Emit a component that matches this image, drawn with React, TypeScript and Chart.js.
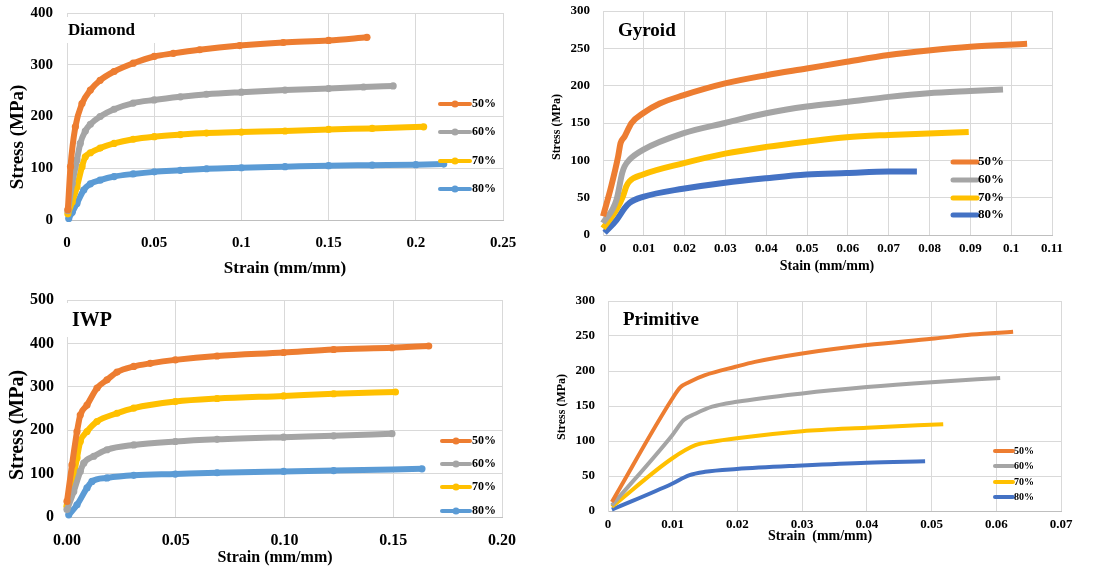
import React, { useEffect, useRef } from 'react';
import { Chart, registerables } from 'chart.js';

Chart.register(...registerables);

// ---------- legend labels ----------
const seriesLabels = ['50%', '60%', '70%', '80%'];

// ---------- tick labels ----------
const diamondXTicks = ['0', '0.05', '0.1', '0.15', '0.2', '0.25'];
const diamondYTicks = ['0', '100', '200', '300', '400'];
const gyroidXTicks = ['0', '0.01', '0.02', '0.03', '0.04', '0.05', '0.06', '0.07', '0.08', '0.09', '0.1', '0.11'];
const gyroidYTicks = ['0', '50', '100', '150', '200', '250', '300'];
const iwpXTicks = ['0.00', '0.05', '0.10', '0.15', '0.20'];
const iwpYTicks = ['0', '100', '200', '300', '400', '500'];
const primitiveXTicks = ['0', '0.01', '0.02', '0.03', '0.04', '0.05', '0.06', '0.07'];
const primitiveYTicks = ['0', '50', '100', '150', '200', '250', '300'];

// ---------- Diamond ----------
const diamond50X = [0.0005, 0.002, 0.0048, 0.0086, 0.0134, 0.019, 0.027, 0.038, 0.05, 0.061, 0.076, 0.099, 0.124, 0.15, 0.172];
const diamond50Y = [20, 103, 180, 225, 251, 270, 287, 303, 316, 322, 329, 337, 343, 347, 353];
const diamond60X = [0.0005, 0.003, 0.0057, 0.0076, 0.0105, 0.0134, 0.019, 0.027, 0.038, 0.05, 0.065, 0.08, 0.1, 0.125, 0.15, 0.17, 0.187];
const diamond60Y = [18, 70, 116, 148, 172, 185, 200, 214, 226, 232, 238, 243, 247, 251, 254, 257, 259];
const diamond70X = [0.0005, 0.003, 0.0057, 0.0086, 0.0105, 0.0134, 0.019, 0.027, 0.038, 0.05, 0.065, 0.08, 0.1, 0.125, 0.15, 0.175, 0.2045];
const diamond70Y = [12, 35, 64, 103, 122, 130, 139, 148, 156, 161, 165, 168, 170, 172, 175, 177, 180];
const diamond80X = [0.001, 0.003, 0.0057, 0.0096, 0.0134, 0.019, 0.027, 0.038, 0.05, 0.065, 0.08, 0.1, 0.125, 0.15, 0.175, 0.2, 0.216];
const diamond80Y = [3, 15, 32, 58, 70, 77, 84, 89, 93, 96, 99, 101, 103, 105, 106, 107, 108];

// ---------- Gyroid ----------
const gyroid50X = [0, 0.002, 0.0037, 0.0043, 0.0053, 0.007, 0.0098, 0.0139, 0.0196, 0.0299, 0.04, 0.0499, 0.0597, 0.07, 0.0797, 0.09, 0.1039];
const gyroid50Y = [25, 65, 105, 123, 132, 150, 163, 176, 187, 203, 214, 223, 232, 241, 247, 252, 256];
const gyroid60X = [0, 0.0033, 0.0047, 0.0053, 0.0065, 0.0098, 0.0196, 0.0299, 0.04, 0.0499, 0.0597, 0.07, 0.0797, 0.09, 0.098];
const gyroid60Y = [16, 47, 83, 92, 101, 114, 136, 150, 163, 172, 178, 185, 190, 193, 195];
const gyroid70X = [0, 0.0033, 0.0049, 0.0057, 0.0065, 0.0098, 0.0196, 0.0299, 0.04, 0.0499, 0.0597, 0.07, 0.0797, 0.0896];
const gyroid70Y = [9, 34, 52, 65, 72, 81, 96, 109, 118, 125, 131, 134, 136, 138];
const gyroid80X = [0.0004, 0.0033, 0.0053, 0.0065, 0.0098, 0.0196, 0.0299, 0.04, 0.0499, 0.0597, 0.07, 0.0769];
const gyroid80Y = [3, 20, 36, 43, 51, 62, 70, 76, 81, 83, 85, 85];

// ---------- IWP ----------
const iwp50X = [0, 0.0023, 0.0046, 0.0061, 0.0092, 0.0138, 0.0184, 0.023, 0.0307, 0.0383, 0.0498, 0.069, 0.0996, 0.1226, 0.1494, 0.1663];
const iwp50Y = [36, 120, 197, 235, 258, 297, 316, 334, 347, 354, 362, 371, 379, 386, 390, 394];
const iwp60X = [0, 0.0031, 0.0061, 0.0077, 0.0123, 0.0184, 0.0307, 0.0498, 0.069, 0.0996, 0.1226, 0.1494];
const iwp60Y = [17, 59, 105, 124, 140, 155, 166, 174, 179, 184, 187, 192];
const iwp70X = [0, 0.0023, 0.0046, 0.0061, 0.0092, 0.0138, 0.023, 0.0307, 0.0498, 0.069, 0.0996, 0.1226, 0.151];
const iwp70Y = [25, 74, 136, 174, 197, 220, 239, 251, 266, 273, 279, 284, 288];
const iwp80X = [0.0008, 0.0046, 0.0092, 0.0115, 0.0184, 0.0307, 0.0498, 0.069, 0.0996, 0.1226, 0.1632];
const iwp80Y = [5, 28, 67, 82, 90, 96, 99, 102, 105, 107, 111];

// ---------- Primitive ----------
const primitive50X = [0.0006, 0.0099, 0.0112, 0.0125, 0.015, 0.0197, 0.0227, 0.03, 0.04, 0.05, 0.0562, 0.0626];
const primitive50Y = [13, 160, 177, 184, 194, 206, 213, 225, 237, 246, 252, 256];
const primitive60X = [0.0006, 0.0099, 0.0117, 0.0135, 0.0161, 0.0199, 0.03, 0.04, 0.05, 0.0606];
const primitive60Y = [8, 108, 130, 139, 149, 156, 168, 177, 184, 190];
const primitive70X = [0.0006, 0.0099, 0.0135, 0.0161, 0.0199, 0.03, 0.04, 0.0518];
const primitive70Y = [6, 75, 94, 99, 104, 114, 119, 124];
const primitive80X = [0.0006, 0.0099, 0.0125, 0.015, 0.0199, 0.03, 0.04, 0.049];
const primitive80Y = [2, 39, 51, 56, 60, 65, 69, 71];

// ---------- styling ----------
const ORANGE = '#ED7D31';
const GRAY = '#A5A5A5';
const YELLOW = '#FFC000';
const LIGHT_BLUE = '#5B9BD5';
const DARK_BLUE = '#4472C4';
const FAMILY = "'Liberation Serif', 'Times New Roman', serif";
const GRID = '#d9d9d9';

type Series = { xs: number[]; ys: number[]; color: string };

type PanelCfg = {
  left: number; top: number; w: number; h: number;
  padTop: number; padRight: number; yAxisWidth: number; xAxisHeight: number;
  xMax: number; xStep: number; yMax: number; yStep: number;
  xTicks: string[]; yTicks: string[];
  tickFont: number; xTickPad: number; yTickPad: number;
  title: string; titleX: number; titleY: number; titleFont: number; titleBox?: number[];
  yTitle: string; yTitleX: number; yTitleY: number; yTitleFont: number;
  xTitle: string; xTitleX: number; xTitleY: number; xTitleFont: number;
  legX0: number; legX1: number; legTextX: number; legYs: number[]; legLineW: number; legMarker: number; legFont: number;
  lineW: number; pointR: number;
  series: Series[];
};

const panels: PanelCfg[] = [
  {
    left: 0, top: 0, w: 550, h: 285,
    padTop: 13, padRight: 47, yAxisWidth: 67, xAxisHeight: 65,
    xMax: 0.25, xStep: 0.05, yMax: 400, yStep: 100,
    xTicks: diamondXTicks, yTicks: diamondYTicks,
    tickFont: 15, xTickPad: 14, yTickPad: 14,
    title: 'Diamond', titleX: 68, titleY: 31, titleFont: 17, titleBox: [67, 17, 118, 26],
    yTitle: 'Stress (MPa)', yTitleX: 18, yTitleY: 137, yTitleFont: 19,
    xTitle: 'Strain (mm/mm)', xTitleX: 285, xTitleY: 269, xTitleFont: 17,
    legX0: 440, legX1: 470, legTextX: 472, legYs: [104, 132, 161, 189], legLineW: 4, legMarker: 3.5, legFont: 12,
    lineW: 6, pointR: 3.6,
    series: [
      { xs: diamond50X, ys: diamond50Y, color: ORANGE },
      { xs: diamond60X, ys: diamond60Y, color: GRAY },
      { xs: diamond70X, ys: diamond70Y, color: YELLOW },
      { xs: diamond80X, ys: diamond80Y, color: LIGHT_BLUE },
    ],
  },
  {
    left: 550, top: 0, w: 552, h: 285,
    padTop: 11, padRight: 50, yAxisWidth: 53, xAxisHeight: 50,
    xMax: 0.11, xStep: 0.01, yMax: 300, yStep: 50,
    xTicks: gyroidXTicks, yTicks: gyroidYTicks,
    tickFont: 13, xTickPad: 6, yTickPad: 13,
    title: 'Gyroid', titleX: 68, titleY: 31, titleFont: 19,
    yTitle: 'Stress (MPa)', yTitleX: 7, yTitleY: 127, yTitleFont: 12,
    xTitle: 'Stain (mm/mm)', xTitleX: 277, xTitleY: 266, xTitleFont: 14,
    legX0: 403, legX1: 427, legTextX: 428, legYs: [162, 180, 198, 215], legLineW: 5, legMarker: 0, legFont: 13,
    lineW: 6, pointR: 0,
    series: [
      { xs: gyroid50X, ys: gyroid50Y, color: ORANGE },
      { xs: gyroid60X, ys: gyroid60Y, color: GRAY },
      { xs: gyroid70X, ys: gyroid70Y, color: YELLOW },
      { xs: gyroid80X, ys: gyroid80Y, color: DARK_BLUE },
    ],
  },
  {
    left: 0, top: 285, w: 555, h: 286,
    padTop: 15, padRight: 53, yAxisWidth: 67, xAxisHeight: 54,
    xMax: 0.2, xStep: 0.05, yMax: 500, yStep: 100,
    xTicks: iwpXTicks, yTicks: iwpYTicks,
    tickFont: 16, xTickPad: 14, yTickPad: 13,
    title: 'IWP', titleX: 72, titleY: 36, titleFont: 20, titleBox: [67, 18, 86, 34],
    yTitle: 'Stress (MPa)', yTitleX: 18, yTitleY: 140, yTitleFont: 20,
    xTitle: 'Strain (mm/mm)', xTitleX: 275, xTitleY: 273, xTitleFont: 16,
    legX0: 442, legX1: 470, legTextX: 472, legYs: [156, 179, 202, 226], legLineW: 4, legMarker: 3.5, legFont: 12,
    lineW: 6, pointR: 3.6,
    series: [
      { xs: iwp50X, ys: iwp50Y, color: ORANGE },
      { xs: iwp60X, ys: iwp60Y, color: GRAY },
      { xs: iwp70X, ys: iwp70Y, color: YELLOW },
      { xs: iwp80X, ys: iwp80Y, color: LIGHT_BLUE },
    ],
  },
  {
    left: 555, top: 285, w: 547, h: 286,
    padTop: 16, padRight: 41, yAxisWidth: 53, xAxisHeight: 60,
    xMax: 0.07, xStep: 0.01, yMax: 300, yStep: 50,
    xTicks: primitiveXTicks, yTicks: primitiveYTicks,
    tickFont: 13, xTickPad: 6, yTickPad: 13,
    title: 'Primitive', titleX: 68, titleY: 35, titleFont: 19,
    yTitle: 'Stress (MPa)', yTitleX: 7, yTitleY: 122, yTitleFont: 12,
    xTitle: 'Strain  (mm/mm)', xTitleX: 265, xTitleY: 251, xTitleFont: 14,
    legX0: 440, legX1: 458, legTextX: 459, legYs: [166, 181, 197, 212], legLineW: 4, legMarker: 0, legFont: 10,
    lineW: 4, pointR: 0,
    series: [
      { xs: primitive50X, ys: primitive50Y, color: ORANGE },
      { xs: primitive60X, ys: primitive60Y, color: GRAY },
      { xs: primitive70X, ys: primitive70Y, color: YELLOW },
      { xs: primitive80X, ys: primitive80Y, color: DARK_BLUE },
    ],
  },
];

function makeDeco(cfg: PanelCfg) {
  return {
    id: 'deco',
    afterDraw(chart: any) {
      const ctx: CanvasRenderingContext2D = chart.ctx;
      ctx.save();
      // panel title
      if (cfg.titleBox) {
        const [bx, by, bw, bh] = cfg.titleBox;
        ctx.fillStyle = '#ffffff';
        ctx.fillRect(bx, by, bw, bh);
      }
      ctx.fillStyle = '#000';
      ctx.textBaseline = 'middle';
      ctx.textAlign = 'left';
      ctx.font = `bold ${cfg.titleFont}px ${FAMILY}`;
      ctx.fillText(cfg.title, cfg.titleX, cfg.titleY);
      // axis titles
      ctx.textAlign = 'center';
      ctx.font = `bold ${cfg.xTitleFont}px ${FAMILY}`;
      ctx.fillText(cfg.xTitle, cfg.xTitleX, cfg.xTitleY);
      ctx.save();
      ctx.translate(cfg.yTitleX, cfg.yTitleY);
      ctx.rotate(-Math.PI / 2);
      ctx.font = `bold ${cfg.yTitleFont}px ${FAMILY}`;
      ctx.fillText(cfg.yTitle, 0, 0);
      ctx.restore();
      // legend
      ctx.textAlign = 'left';
      ctx.font = `bold ${cfg.legFont}px ${FAMILY}`;
      cfg.series.forEach((s, i) => {
        const y = cfg.legYs[i];
        ctx.strokeStyle = s.color;
        ctx.lineWidth = cfg.legLineW;
        ctx.lineCap = 'round';
        ctx.beginPath();
        ctx.moveTo(cfg.legX0, y);
        ctx.lineTo(cfg.legX1, y);
        ctx.stroke();
        if (cfg.legMarker > 0) {
          ctx.fillStyle = s.color;
          ctx.beginPath();
          ctx.arc((cfg.legX0 + cfg.legX1) / 2, y, cfg.legMarker, 0, Math.PI * 2);
          ctx.fill();
        }
        ctx.fillStyle = '#000';
        ctx.fillText(seriesLabels[i], cfg.legTextX, y);
      });
      ctx.restore();
    },
  };
}

function zeroPadding(s: any) {
  s.paddingTop = 0;
  s.paddingBottom = 0;
  s.paddingLeft = 0;
  s.paddingRight = 0;
}

function Panel({ cfg }: { cfg: PanelCfg }) {
  const ref = useRef<HTMLCanvasElement>(null);
  useEffect(() => {
    const canvas = ref.current!;
    const tickFont = { family: FAMILY, size: cfg.tickFont, weight: 'bold' as const };
    const chart = new Chart(canvas, {
      type: 'line',
      data: {
        datasets: cfg.series.map((s, i) => ({
          label: seriesLabels[i],
          data: s.xs.map((x, j) => ({ x, y: s.ys[j] })),
          borderColor: s.color,
          backgroundColor: s.color,
          borderWidth: cfg.lineW,
          pointRadius: cfg.pointR,
          pointBorderWidth: 0,
          pointHoverRadius: cfg.pointR,
          cubicInterpolationMode: 'monotone' as const,
          fill: false,
          clip: false as any,
        })),
      },
      options: {
        animation: false,
        responsive: false,
        maintainAspectRatio: false,
        events: [],
        layout: { padding: { top: cfg.padTop, right: cfg.padRight, left: 0, bottom: 0 } },
        plugins: { legend: { display: false }, tooltip: { enabled: false } },
        scales: {
          x: {
            type: 'linear',
            min: 0,
            max: cfg.xMax,
            grid: { color: GRID, drawTicks: false },
            border: { color: '#bfbfbf' },
            ticks: {
              stepSize: cfg.xStep,
              autoSkip: false,
              maxRotation: 0,
              padding: cfg.xTickPad,
              color: '#000',
              font: tickFont,
              callback: (_v: any, i: number) => cfg.xTicks[i] ?? '',
            },
            afterFit: (s: any) => { s.height = cfg.xAxisHeight; zeroPadding(s); },
          },
          y: {
            type: 'linear',
            min: 0,
            max: cfg.yMax,
            grid: { color: GRID, drawTicks: false },
            border: { color: GRID },
            ticks: {
              stepSize: cfg.yStep,
              autoSkip: false,
              padding: cfg.yTickPad,
              color: '#000',
              font: tickFont,
              callback: (_v: any, i: number) => cfg.yTicks[i] ?? '',
            },
            afterFit: (s: any) => { s.width = cfg.yAxisWidth; zeroPadding(s); },
          },
        },
      },
      plugins: [makeDeco(cfg)],
    });
    return () => chart.destroy();
  }, [cfg]);
  return (
    <canvas
      ref={ref}
      width={cfg.w}
      height={cfg.h}
      style={{ position: 'absolute', left: cfg.left, top: cfg.top, width: cfg.w, height: cfg.h }}
    />
  );
}

export default function App() {
  return (
    <div style={{ position: 'absolute', left: 0, top: 0, width: 1102, height: 571, background: '#ffffff' }}>
      {panels.map((p, i) => (
        <Panel key={i} cfg={p} />
      ))}
    </div>
  );
}
